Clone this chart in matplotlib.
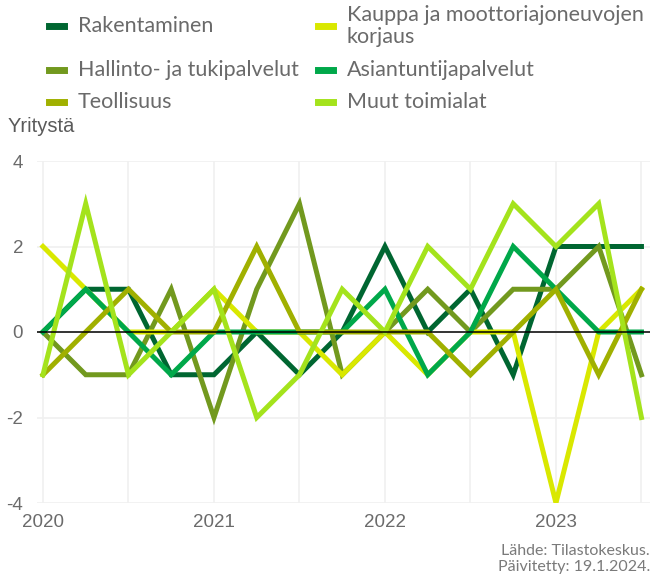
import numpy as np
import matplotlib
matplotlib.use('Agg')
import matplotlib.pyplot as plt
from matplotlib.lines import Line2D

# neljännekset 2020Q1 ... 2023Q3
quarters = np.arange(15)
year_ticks = [0, 4, 8, 12]
year_labels = ['2020', '2021', '2022', '2023']

rakentaminen = [0, 1, 1, -1, -1, 0, -1, 0, 2, 0, 1, -1, 2, 2, 2]
hallinto = [0, -1, -1, 1, -2, 1, 3, -1, 0, 1, 0, 1, 1, 2, -1]
kauppa = [2, 1, 0, 0, 1, 0, 0, -1, 0, -1, 0, 0, -4, 0, 1]
asiantuntija = [0, 1, 0, -1, 0, 0, 0, 0, 1, -1, 0, 2, 1, 0, 0]
teollisuus = [-1, 0, 1, 0, 0, 2, 0, 0, 0, 0, -1, 0, 1, -1, 1]
muut = [-1, 3, -1, 0, 1, -2, -1, 1, 0, 2, 1, 3, 2, 3, -2]

names = ['Rakentaminen', 'Hallinto- ja tukipalvelut', 'Teollisuus',
         'Kauppa ja moottoriajoneuvojen\nkorjaus', 'Asiantuntijapalvelut', 'Muut toimialat']
colors = {'Rakentaminen': '#006631',
          'Hallinto- ja tukipalvelut': '#72991e',
          'Teollisuus': '#a0b000',
          'Kauppa ja moottoriajoneuvojen\nkorjaus': '#d9e800',
          'Asiantuntijapalvelut': '#00a84a',
          'Muut toimialat': '#a4e31c'}
data = {'Rakentaminen': rakentaminen,
        'Hallinto- ja tukipalvelut': hallinto,
        'Teollisuus': teollisuus,
        'Kauppa ja moottoriajoneuvojen\nkorjaus': kauppa,
        'Asiantuntijapalvelut': asiantuntija,
        'Muut toimialat': muut}
draw_order = [names[0], names[1], names[3], names[4], names[2], names[5]]

fig = plt.figure(figsize=(6.52, 5.79), dpi=100)
ax = fig.add_axes([37/652, 1-503/579, (650-37)/652, (503-161)/579])

for n in draw_order:
    ax.plot(quarters, data[n], color=colors[n], lw=3.6, solid_joinstyle='miter', zorder=3)

ax.axhline(0, color='black', lw=1.1, zorder=5)
ax.set_xlim(-0.14, 14.2)
ax.set_ylim(-4, 4)
ax.set_yticks([-4, -2, 0, 2, 4])
ax.set_yticklabels(['-4', '-2', '0', '2', '4'])
ax.set_xticks(year_ticks)
ax.set_xticklabels(year_labels)
ax.set_xticks(np.arange(0, 15, 2), minor=True)
ax.grid(True, which='both', axis='x', color='#f0f0f0', lw=1.2, zorder=0)
ax.grid(True, which='major', axis='y', color='#f0f0f0', lw=1.2, zorder=0)
ax.tick_params(which='both', length=0)
ax.tick_params(axis='y', pad=10, labelsize=13.5, labelcolor='#6b6b6b')
ax.tick_params(axis='x', pad=8, labelsize=13.5, labelcolor='#6b6b6b')
for lab in ax.get_xticklabels() + ax.get_yticklabels():
    lab.set_family('Liberation Sans')
for s in ax.spines.values():
    s.set_visible(False)

fig.text(8/652, 1-127/579, 'Yritystä', fontsize=14.5, color='#5a5a5a',
         family='Liberation Sans', va='center', ha='left')

# selite kahdessa sarakkeessa
leg_pos = [(49, 26), (49, 70), (49, 102), (318, 26), (318, 70), (318, 102)]
for n, (x, y) in zip(names, leg_pos):
    yy = 1 - y/579
    fig.lines.append(Line2D([x/652, (x+15)/652], [yy, yy], color=colors[n], lw=5,
                            transform=fig.transFigure))
    fig.text((x+29)/652, yy, n, fontsize=15.5, color='#6a6a6a', family='Lato',
             va='center', ha='left', linespacing=1.15)

fig.text(650/652, 1-551/579, 'Lähde: Tilastokeskus.', fontsize=11.5, color='#7a7a7a',
         family='Lato', ha='right', va='center')
fig.text(650/652, 1-567/579, 'Päivitetty: 19.1.2024.', fontsize=11.5, color='#7a7a7a',
         family='Lato', ha='right', va='center')

fig.savefig('out.png', dpi=100)
